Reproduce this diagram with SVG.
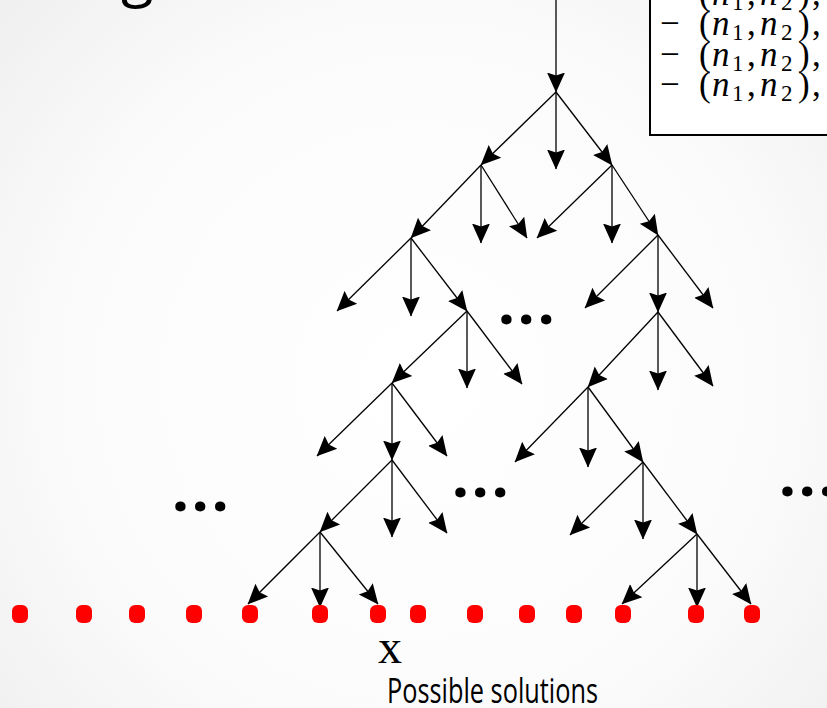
<svg xmlns="http://www.w3.org/2000/svg" width="827" height="708" viewBox="0 0 827 708">
  <defs>
    <radialGradient id="bg" cx="420" cy="380" r="640" gradientUnits="userSpaceOnUse">
      <stop offset="0" stop-color="#ffffff"/>
      <stop offset="0.55" stop-color="#fbfbfb"/>
      <stop offset="1" stop-color="#ebebeb"/>
    </radialGradient>
    <marker id="ah" markerUnits="userSpaceOnUse" viewBox="0 0 20 20" markerWidth="20" markerHeight="20" refX="19.5" refY="10" orient="auto">
      <path d="M0,1 L20,10 L0,19 L3,10 z" fill="#000"/>
    </marker>
    <style>
      .c line { stroke: #000; stroke-width: 1.3; marker-end: url(#ah); }
      .sol { fill: #ff0000; }
    </style>
  </defs>
  <rect width="827" height="708" fill="url(#bg)"/>

  <g id="title">
    <text x="121" y="-5" font-family="Open Sans, sans-serif" font-size="60" fill="#000">g</text>
  </g>

  <g id="legend-box" font-family="Liberation Serif, Times New Roman, serif" font-size="35" fill="#000">
    <rect x="650" y="-10" width="200" height="145" fill="#fff" stroke="#000" stroke-width="2"/>
    <text y="4.5"><tspan x="660">−</tspan><tspan x="699">(</tspan><tspan x="712" font-style="italic">n</tspan><tspan x="732" font-size="23" dy="5">1</tspan><tspan x="747" dy="-5">,</tspan><tspan x="760" font-style="italic">n</tspan><tspan x="781" font-size="23" dy="5">2</tspan><tspan x="798" dy="-5">)</tspan><tspan x="812">,</tspan></text>
    <text y="35"><tspan x="660">−</tspan><tspan x="699">(</tspan><tspan x="712" font-style="italic">n</tspan><tspan x="732" font-size="23" dy="5">1</tspan><tspan x="747" dy="-5">,</tspan><tspan x="760" font-style="italic">n</tspan><tspan x="781" font-size="23" dy="5">2</tspan><tspan x="798" dy="-5">)</tspan><tspan x="812">,</tspan></text>
    <text y="65.5"><tspan x="660">−</tspan><tspan x="699">(</tspan><tspan x="712" font-style="italic">n</tspan><tspan x="732" font-size="23" dy="5">1</tspan><tspan x="747" dy="-5">,</tspan><tspan x="760" font-style="italic">n</tspan><tspan x="781" font-size="23" dy="5">2</tspan><tspan x="798" dy="-5">)</tspan><tspan x="812">,</tspan></text>
    <text y="96"><tspan x="660">−</tspan><tspan x="699">(</tspan><tspan x="712" font-style="italic">n</tspan><tspan x="732" font-size="23" dy="5">1</tspan><tspan x="747" dy="-5">,</tspan><tspan x="760" font-style="italic">n</tspan><tspan x="781" font-size="23" dy="5">2</tspan><tspan x="798" dy="-5">)</tspan><tspan x="812">,</tspan></text>
  </g>

  <g id="connectors" class="c">
    <line x1="556" y1="-2" x2="556" y2="92"/>
    <line x1="556" y1="92" x2="481" y2="165"/>
    <line x1="556" y1="92" x2="556" y2="169"/>
    <line x1="556" y1="92" x2="612" y2="165"/>
    <line x1="481" y1="165" x2="411" y2="238"/>
    <line x1="481" y1="165" x2="481" y2="243"/>
    <line x1="481" y1="165" x2="527" y2="238"/>
    <line x1="612" y1="165" x2="537" y2="238"/>
    <line x1="612" y1="165" x2="612" y2="243"/>
    <line x1="612" y1="165" x2="658" y2="235"/>
    <line x1="658" y1="235" x2="585" y2="308"/>
    <line x1="658" y1="235" x2="658" y2="312"/>
    <line x1="658" y1="235" x2="713" y2="308"/>
    <line x1="658" y1="312" x2="588" y2="387"/>
    <line x1="658" y1="312" x2="658" y2="390"/>
    <line x1="658" y1="312" x2="713" y2="386"/>
    <line x1="588" y1="387" x2="515" y2="462"/>
    <line x1="588" y1="387" x2="588" y2="467"/>
    <line x1="588" y1="387" x2="643" y2="462"/>
    <line x1="643" y1="462" x2="570" y2="535"/>
    <line x1="643" y1="462" x2="643" y2="539"/>
    <line x1="643" y1="462" x2="697" y2="534"/>
    <line x1="697" y1="534" x2="622" y2="604"/>
    <line x1="697" y1="534" x2="697" y2="607"/>
    <line x1="697" y1="534" x2="751" y2="604"/>
    <line x1="411" y1="238" x2="337" y2="311"/>
    <line x1="411" y1="238" x2="411" y2="316"/>
    <line x1="411" y1="238" x2="467" y2="311"/>
    <line x1="467" y1="311" x2="392" y2="383"/>
    <line x1="467" y1="311" x2="467" y2="388"/>
    <line x1="467" y1="311" x2="522" y2="384"/>
    <line x1="392" y1="383" x2="317" y2="456"/>
    <line x1="392" y1="383" x2="392" y2="460"/>
    <line x1="392" y1="383" x2="447" y2="456"/>
    <line x1="392" y1="460" x2="320" y2="532"/>
    <line x1="392" y1="460" x2="392" y2="537"/>
    <line x1="392" y1="460" x2="447" y2="533"/>
    <line x1="320" y1="532" x2="248" y2="604"/>
    <line x1="320" y1="532" x2="320" y2="607"/>
    <line x1="320" y1="532" x2="378" y2="604"/>
  </g>

  <g id="ellipses" font-family="Noto Sans, Open Sans, sans-serif" font-weight="bold" font-size="60" letter-spacing="3" fill="#000">
    <text id="ellipsis-left" x="172" y="511">...</text>
    <text id="ellipsis-mid-top" x="498" y="324">...</text>
    <text id="ellipsis-mid" x="452" y="497">...</text>
    <text id="ellipsis-right" x="779" y="496">...</text>
  </g>

  <g id="solutions">
    <rect id="s1" class="sol" x="12" y="605" width="16" height="18" rx="6"/>
    <rect id="s2" class="sol" x="76" y="605" width="16" height="18" rx="6"/>
    <rect id="s3" class="sol" x="129" y="605" width="16" height="18" rx="6"/>
    <rect id="s4" class="sol" x="186" y="605" width="16" height="18" rx="6"/>
    <rect id="s5" class="sol" x="242" y="605" width="16" height="18" rx="6"/>
    <rect id="s6" class="sol" x="312" y="605" width="16" height="18" rx="6"/>
    <rect id="s7" class="sol" x="370" y="605" width="16" height="18" rx="6"/>
    <rect id="s8" class="sol" x="410" y="605" width="16" height="18" rx="6"/>
    <rect id="s9" class="sol" x="467" y="605" width="16" height="18" rx="6"/>
    <rect id="s10" class="sol" x="519" y="605" width="16" height="18" rx="6"/>
    <rect id="s11" class="sol" x="566" y="605" width="16" height="18" rx="6"/>
    <rect id="s12" class="sol" x="615" y="605" width="16" height="18" rx="6"/>
    <rect id="s13" class="sol" x="688" y="605" width="16" height="18" rx="6"/>
    <rect id="s14" class="sol" x="744" y="605" width="16" height="18" rx="6"/>
  </g>

  <g id="label-x">
    <text x="378" y="663" font-family="Liberation Serif, Times New Roman, serif" font-size="48" fill="#000">x</text>
  </g>
  <g id="label-solutions">
    <text x="387" y="703" font-family="Open Sans, sans-serif" font-size="35" fill="#000" textLength="211" lengthAdjust="spacingAndGlyphs">Possible solutions</text>
  </g>
</svg>
